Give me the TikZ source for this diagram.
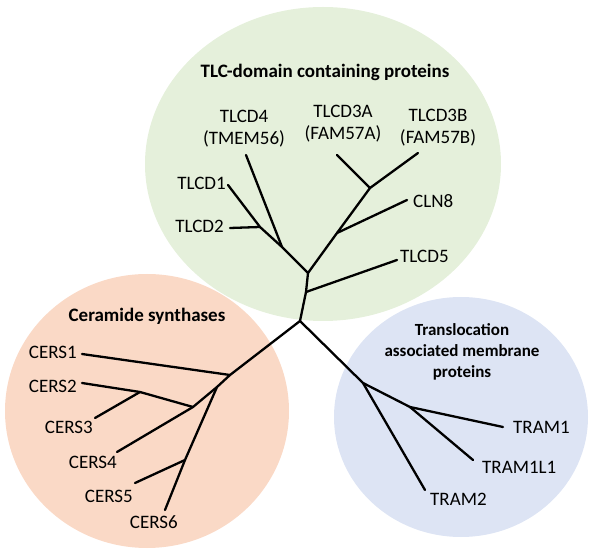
\documentclass[tikz,border=0pt]{standalone}
\usepackage{fontspec}
\setmainfont{Carlito}
\definecolor{tlcgreen}{HTML}{E5F0DB}
\definecolor{cerorange}{HTML}{FAD9C6}
\definecolor{trablue}{HTML}{DDE4F4}
\begin{document}
\begin{tikzpicture}[x=1pt,y=-1pt,
  branch/.style={line width=2.3pt,line cap=round},
  lab/.style={inner sep=0pt,font=\fontsize{19}{22}\selectfont},
  ttl/.style={inner sep=0pt,font=\fontsize{19}{22}\selectfont\bfseries},
  ttlsmall/.style={inner sep=0pt,align=center,font=\fontsize{17}{21}\selectfont\bfseries},
  twoline/.style={inner sep=0pt,align=center,font=\fontsize{19}{22}\selectfont}]
\useasboundingbox (0,0) rectangle (598,556);
% group backgrounds
\fill[tlcgreen] (323,164) ellipse [x radius=178, y radius=157];
\fill[cerorange] (147,411) ellipse [x radius=142, y radius=137];
\fill[trablue] (461,417) ellipse [x radius=127, y radius=120];
% titles
\node[ttl,anchor=base] (tTLC) at (325,78) {TLC-domain containing proteins};
\node[ttl,anchor=base] (tCER) at (147,322) {Ceramide synthases};
\node[ttlsmall] (tTRA) at (462,352) {Translocation\\associated membrane\\proteins};
% junctions
\coordinate (root) at (300,321);
\coordinate (jA) at (306,292);
\coordinate (jB) at (308,273);
\coordinate (jC) at (282,247);
\coordinate (jD) at (260,227);
\coordinate (jE) at (337,233);
\coordinate (jF) at (370,188);
\coordinate (jG) at (230,375);
\coordinate (jH) at (217,387);
\coordinate (jI) at (193,407);
\coordinate (jL) at (140,392);
\coordinate (jK) at (185,460);
\coordinate (jM) at (363,383);
\coordinate (jN) at (410,407);
% leaf ends
\coordinate (eTLCD1) at (228,185);
\coordinate (eTLCD2) at (230,228);
\coordinate (eTLCD4) at (246,155);
\coordinate (eTLCD3A) at (337,155);
\coordinate (eTLCD3B) at (418,153);
\coordinate (eCLN8) at (407,200);
\coordinate (eTLCD5) at (397,260);
\coordinate (eCERS1) at (82,354);
\coordinate (eCERS2) at (82,383);
\coordinate (eCERS3) at (95,418);
\coordinate (eCERS4) at (117,452);
\coordinate (eCERS5) at (135,483);
\coordinate (eCERS6) at (165,510);
\coordinate (eTRAM1) at (503,427);
\coordinate (eTRAM1L1) at (473,460);
\coordinate (eTRAM2) at (425,490);
% labels
\node[lab,anchor=base east] (TLCD1) at (226,190) {TLCD1};
\node[lab,anchor=base east] (TLCD2) at (224,233) {TLCD2};
\node[twoline] (TLCD4) at (244,129) {TLCD4\\(TMEM56)};
\node[twoline] (TLCD3A) at (343,124) {TLCD3A\\(FAM57A)};
\node[twoline] (TLCD3B) at (438,128) {TLCD3B\\(FAM57B)};
\node[lab,anchor=base west] (CLN8) at (413,208) {CLN8};
\node[lab,anchor=base west] (TLCD5) at (400,263) {TLCD5};
\node[lab,anchor=base east] (CERS1) at (77,359) {CERS1};
\node[lab,anchor=base east] (CERS2) at (77,393) {CERS2};
\node[lab,anchor=base east] (CERS3) at (93,434) {CERS3};
\node[lab,anchor=base east] (CERS4) at (117,468) {CERS4};
\node[lab,anchor=base east] (CERS5) at (133,502) {CERS5};
\node[lab,anchor=base east] (CERS6) at (178,529) {CERS6};
\node[lab,anchor=base west] (TRAM1) at (513,434) {TRAM1};
\node[lab,anchor=base west] (TRAM1L1) at (482,474) {TRAM1L1};
\node[lab,anchor=base west] (TRAM2) at (430,505) {TRAM2};
% TLC tree
\draw[branch] (root) -- (jA) -- (jB);
\draw[branch] (jA) -- (eTLCD5);
\draw[branch] (jB) -- (jC) -- (jD) -- (eTLCD1);
\draw[branch] (jD) -- (eTLCD2);
\draw[branch] (jC) -- (eTLCD4);
\draw[branch] (jB) -- (jE) -- (jF) -- (eTLCD3B);
\draw[branch] (jF) -- (eTLCD3A);
\draw[branch] (jE) -- (eCLN8);
% CERS tree
\draw[branch] (root) -- (jG) -- (jH) -- (jI) -- (eCERS4);
\draw[branch] (jG) -- (eCERS1);
\draw[branch] (jI) -- (jL) -- (eCERS2);
\draw[branch] (jL) -- (eCERS3);
\draw[branch] (jH) -- (jK) -- (eCERS6);
\draw[branch] (jK) -- (eCERS5);
% TRAM tree
\draw[branch] (root) -- (jM) -- (jN) -- (eTRAM1);
\draw[branch] (jN) -- (eTRAM1L1);
\draw[branch] (jM) -- (eTRAM2);
\end{tikzpicture}
\end{document}
